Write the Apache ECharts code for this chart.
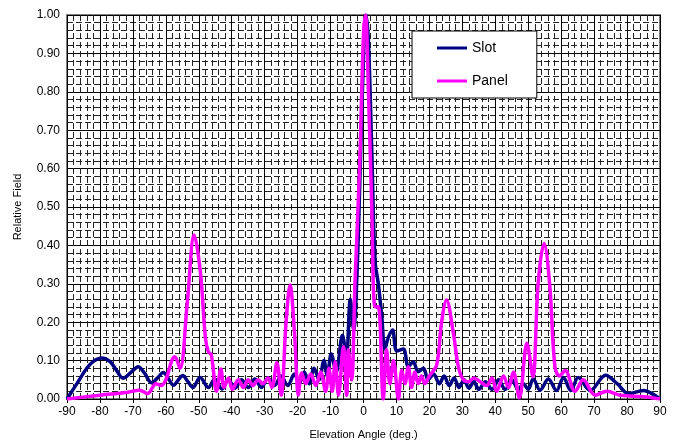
<!DOCTYPE html>
<html>
<head>
<meta charset="utf-8">
<script src="https://cdn.jsdelivr.net/npm/echarts@6/dist/echarts.min.js"></script>
<style>
  html, body { margin: 0; padding: 0; background: #fff; }
  #chart { width: 673px; height: 447px; }
</style>
</head>
<body>
<div id="chart"></div>
<script>
// Slot pattern (angle in deg, relative field)
const slotAngle = [-90, -87, -84, -82, -79.5, -77, -75, -73, -70.5, -68.4, -66.5, -64.3, -62.5, -60.8, -59, -57.7,
  -56, -54.9, -53.3, -51.8, -49.6, -47.1, -45.1, -43, -41, -39, -37, -35, -33, -31, -29, -27, -25, -23, -21,
  -19.5, -18, -16.5, -15, -13.5, -12, -11, -9.8, -8.3, -6.4, -5.2, -4, -3, -2, -1, 0.3, 0.8, 1.5, 2.5, 3.5,
  4.5, 5.5, 6.5, 7.5, 8.8, 10.1, 12.1, 13.6, 15.1, 16.6, 18.2, 19.6, 21.3, 23, 24.5, 26, 27.5, 29, 30.5, 32,
  33.5, 35, 37, 39, 41, 43, 45, 47, 48.5, 50, 51.5, 53.6, 56.1, 58.6, 60.7, 62.9, 65.2, 68.8, 73.5, 77, 80.5,
  85, 88, 90];
const slotField = [0, 0.04, 0.08, 0.098, 0.107, 0.098, 0.075, 0.054, 0.07, 0.084, 0.068, 0.042, 0.055, 0.069, 0.05, 0.036,
  0.052, 0.061, 0.045, 0.03, 0.056, 0.03, 0.052, 0.026, 0.05, 0.028, 0.05, 0.03, 0.052, 0.03, 0.055, 0.035, 0.06, 0.035, 0.065,
  0.04, 0.07, 0.04, 0.08, 0.05, 0.1, 0.06, 0.117, 0.07, 0.166, 0.11, 0.26, 0.18, 0.32, 0.6, 0.97, 1.0, 0.93, 0.65, 0.36,
  0.3, 0.22, 0.13, 0.16, 0.18, 0.125, 0.13, 0.084, 0.097, 0.071, 0.08, 0.05, 0.065, 0.04, 0.06, 0.035, 0.055, 0.03, 0.05, 0.028,
  0.045, 0.025, 0.045, 0.025, 0.05, 0.025, 0.05, 0.025, 0.04, 0.025, 0.053, 0.023, 0.052, 0.022, 0.056, 0.022, 0.056, 0.022, 0.062, 0.04, 0.014,
  0.022, 0.012, 0];

// Panel pattern
const panelAngle = [-90, -80, -72, -68, -65.5, -63, -61.5, -60, -58.2, -57.3, -55.7, -53.5, -51.4, -49.5, -48, -47.1, -46.2,
  -44.6, -43.3, -42.3, -41, -39.8, -38, -36.5, -35, -33.5, -32, -30.5, -29, -27.8, -26.3, -25, -23.5, -22.3, -21, -20.3,
  -19.8, -18.8, -17.5, -16, -14.5, -13, -11.5, -10.5, -9.5, -8.6, -7.6, -6.1, -5.1, -4.6, -3.6, -2.6, -1.2, 0, 0.6, 1.5,
  2.5, 3.5, 4.5, 6, 7, 8, 9.1, 10.6, 11.6, 12.6, 13.6, 14.6, 15.6, 16.6, 17.6, 18.6, 20, 22.2, 23.7, 25.2, 27.3, 28.8,
  30.3, 32, 33.5, 35.4, 37.4, 39, 40.4, 42.5, 44, 45.5, 47.3, 49.6, 51.4, 53, 54.8, 56.5, 58.1, 59.5, 61.2, 64.2, 66.7,
  70.3, 73.9, 78, 85, 90];
const panelField = [0, 0.01, 0.017, 0.023, 0.014, 0.04, 0.035, 0.05, 0.1, 0.11, 0.08, 0.25, 0.427, 0.33, 0.16, 0.123, 0.115,
  0.02, 0.078, 0.03, 0.055, 0.025, 0.05, 0.03, 0.05, 0.035, 0.05, 0.04, 0.055, 0.03, 0.095, 0.01, 0.2, 0.297, 0.18, 0.06,
  0.01, 0.068, 0.04, 0.065, 0.035, 0.07, 0.02, 0.08, 0.02, 0.097, 0.01, 0.136, 0.01, 0.128, 0.05, 0.3, 0.6, 0.95, 1.0, 0.8,
  0.5, 0.24, 0.24, 0, 0.128, 0.04, 0.1, 0, 0.075, 0.04, 0.084, 0.03, 0.07, 0.04, 0.06, 0.04, 0.06, 0.088, 0.2, 0.258, 0.17, 0.084,
  0.05, 0.045, 0.055, 0.045, 0.035, 0.055, 0.02, 0.06, 0.03, 0.07, 0.003, 0.145, 0.058, 0.3, 0.405, 0.3, 0.084, 0.06, 0.074, 0.02, 0.05,
  0.01, 0.02, 0.01, 0.006, 0];

const zip = (xs, ys) => xs.map((x, i) => [x, ys[i]]);

const chart = echarts.init(document.getElementById('chart'));
const font = 'Liberation Sans, Arial, sans-serif';

chart.setOption({
  animation: false,
  textStyle: { fontFamily: font },
  grid: {
    left: 67, right: 13, top: 15, bottom: 48,
    show: true, borderColor: '#808080', borderWidth: 2, backgroundColor: 'transparent'
  },
  legend: {
    orient: 'vertical',
    left: 412, top: 31,
    padding: [9, 29, 9, 25],
    itemGap: 17,
    icon: 'rect',
    itemWidth: 30, itemHeight: 3,
    backgroundColor: '#fff',
    borderColor: '#000', borderWidth: 1,
    textStyle: { fontSize: 14, color: '#000', fontFamily: font, lineHeight: 16 },
    data: ['Slot', 'Panel']
  },
  xAxis: {
    type: 'value', min: -90, max: 90, interval: 10,
    name: 'Elevation Angle (deg.)', nameLocation: 'middle', nameGap: 30,
    nameTextStyle: { fontSize: 11, color: '#000' },
    axisLine: { lineStyle: { color: '#000' } },
    axisTick: { show: true, lineStyle: { color: '#000' }, length: 4 },
    axisLabel: { fontSize: 12, color: '#000', margin: 7 },
    splitLine: { lineStyle: { color: '#000', width: 1 } },
    minorTick: { show: false, splitNumber: 5 },
    minorSplitLine: { show: true, lineStyle: { color: '#222', width: 1, type: [6, 3] } }
  },
  yAxis: {
    type: 'value', min: 0, max: 1, interval: 0.1,
    name: 'Relative Field', nameLocation: 'middle', nameGap: 44,
    nameTextStyle: { fontSize: 11, color: '#000' },
    axisLine: { show: true, lineStyle: { color: '#000' } },
    axisTick: { show: true, lineStyle: { color: '#000' }, length: 4 },
    axisLabel: { fontSize: 12, color: '#000', margin: 7, formatter: v => v.toFixed(2) },
    splitLine: { lineStyle: { color: '#000', width: 1 } },
    minorTick: { show: false, splitNumber: 5 },
    minorSplitLine: { show: true, lineStyle: { color: '#222', width: 1, type: [6, 3] } }
  },
  series: [
    {
      name: 'Slot', type: 'line', smooth: 0.35, symbol: 'none',
      data: zip(slotAngle, slotField),
      lineStyle: { color: '#000080', width: 3.5 },
      itemStyle: { color: '#000080' }
    },
    {
      name: 'Panel', type: 'line', smooth: 0.35, symbol: 'none',
      data: zip(panelAngle, panelField),
      lineStyle: { color: '#ff00ff', width: 3.5 },
      itemStyle: { color: '#ff00ff' }
    }
  ]
});
</script>
</body>
</html>
